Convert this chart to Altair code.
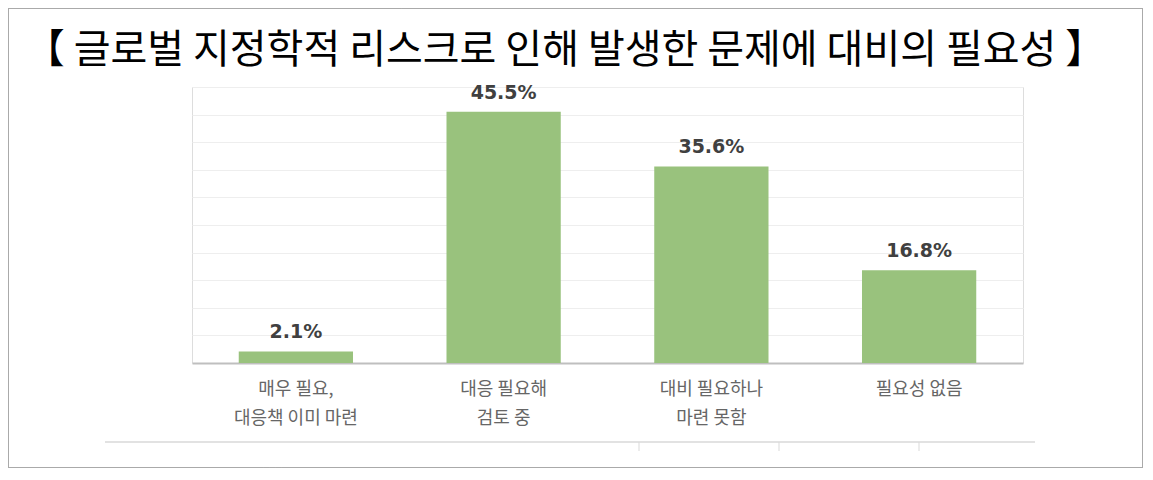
import altair as alt
import pandas as pd

categories = ["매우 필요,\n대응책 이미 마련", "대응 필요해\n검토 중", "대비 필요하나\n마련 못함", "필요성 없음"]
values = [2.1, 45.5, 35.6, 16.8]
value_labels = ["2.1%", "45.5%", "35.6%", "16.8%"]
grid_values = [0, 5, 10, 15, 20, 25, 30, 35, 40, 45, 50]
title_text = "【 글로벌 지정학적 리스크로 인해 발생한 문제에 대비의 필요성 】"

df = pd.DataFrame({"cat": categories, "val": values, "lab": value_labels})

W, H = 1135, 460
PL, PT, PW, PH = 184, 79, 831, 276

base = alt.Chart(df).encode(
    x=alt.X(
        "cat:N",
        sort=categories,
        scale=alt.Scale(paddingInner=0.45, paddingOuter=0.225),
        axis=alt.Axis(
            title=None,
            labelExpr="split(datum.label, '\\n')",
            labelAngle=0,
            labelFont="Noto Sans CJK KR",
            labelFontSize=18,
            labelColor="#666666",
            labelLineHeight=29,
            labelPadding=17,
            ticks=False,
            domainColor="#bfbfbf",
            domainWidth=2,
            grid=False,
        ),
    ),
    y=alt.Y(
        "val:Q",
        scale=alt.Scale(domain=[0, 50], nice=False),
        axis=alt.Axis(
            title=None,
            labels=False,
            ticks=False,
            domain=False,
            values=grid_values,
            gridColor="#eeeeee",
            gridWidth=1,
        ),
    ),
)

bars = base.mark_bar(color="#99C27D")
text = base.mark_text(
    dy=-13,
    baseline="alphabetic",
    font="DejaVu Sans",
    fontWeight="bold",
    fontSize=19,
    color="#404040",
).encode(text="lab:N")

one = pd.DataFrame({"a": [0]})

title_mark = alt.Chart(one).mark_text(
    text=title_text,
    font="Noto Sans CJK KR",
    fontSize=40,
    fontWeight="normal",
    color="#000000",
    align="center",
    baseline="alphabetic",
).encode(x=alt.value(373), y=alt.value(-24))

border = alt.Chart(one).mark_rect(
    fillOpacity=0, stroke="#555555", strokeDash=[1, 1], strokeWidth=1
).encode(
    x=alt.value(-PL + 0.5),
    x2=alt.value(W - PL - 0.5),
    y=alt.value(-PT + 0.5),
    y2=alt.value(H - PT - 0.5),
)

bottom_line = alt.Chart(one).mark_rule(color="#d9d9d9", strokeWidth=1.5).encode(
    x=alt.value(-87), x2=alt.value(843), y=alt.value(355)
)
tick1 = alt.Chart(one).mark_rule(color="#d9d9d9").encode(
    x=alt.value(447), y=alt.value(355), y2=alt.value(364)
)
tick2 = alt.Chart(one).mark_rule(color="#d9d9d9").encode(
    x=alt.value(587), y=alt.value(355), y2=alt.value(364)
)
tick3 = alt.Chart(one).mark_rule(color="#d9d9d9").encode(
    x=alt.value(727), y=alt.value(355), y2=alt.value(364)
)

chart = (
    alt.layer(bars, text, title_mark, bottom_line, tick1, tick2, tick3, border)
    .properties(
        width=PW,
        height=PH,
        autosize=alt.AutoSizeParams(type="none"),
        padding={"left": PL, "top": PT, "right": W - PL - PW, "bottom": H - PT - PH},
    )
    .configure_view(stroke=None)
    .configure(background="white")
)

chart.save("out.html", embed_options={"renderer": "svg", "actions": False})
